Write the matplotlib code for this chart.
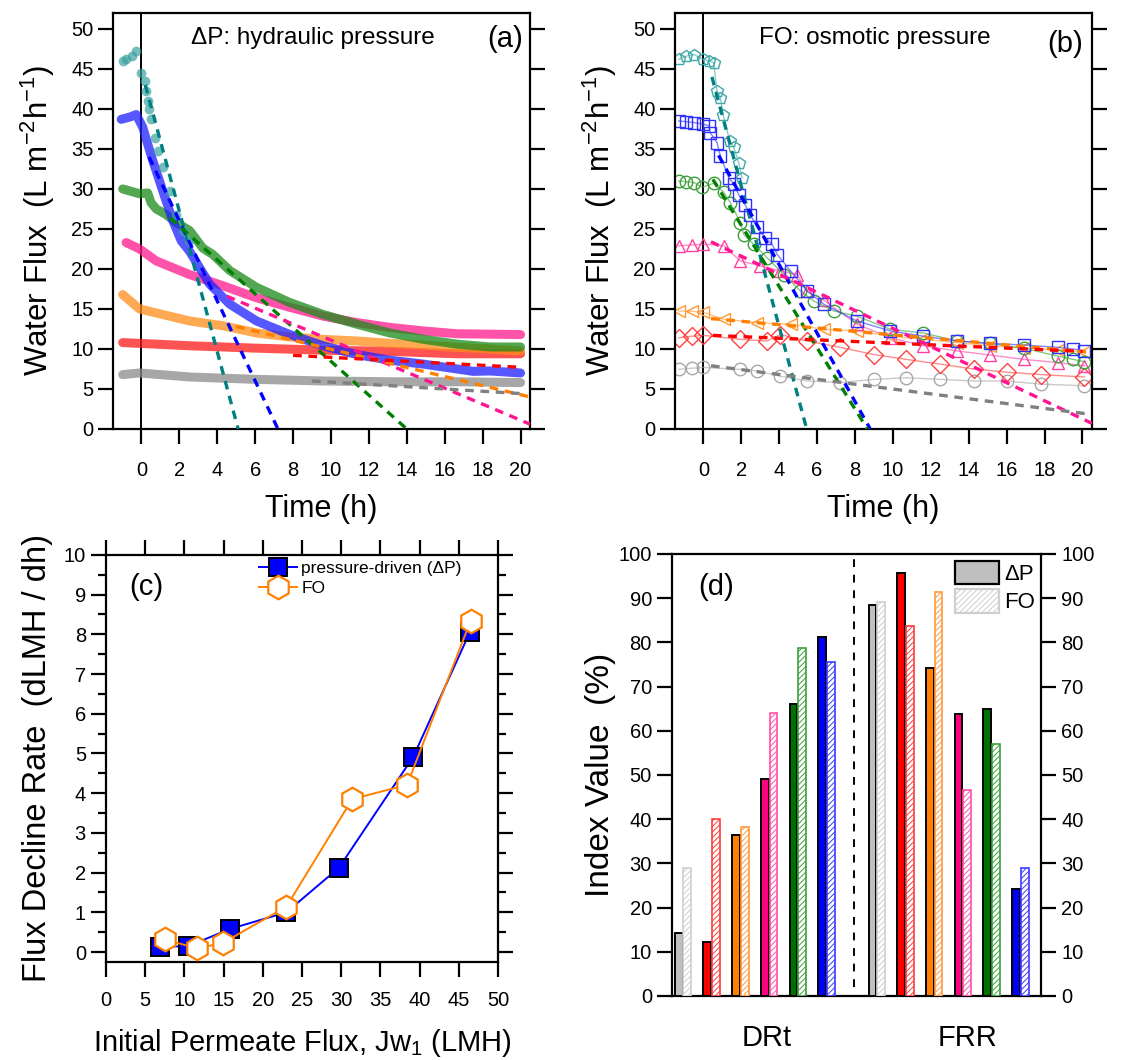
import matplotlib
matplotlib.use("Agg")
import matplotlib.pyplot as plt
from matplotlib.patches import Patch

plt.rcParams["font.family"] = ["Liberation Sans", "DejaVu Sans"]
plt.rcParams["mathtext.default"] = "regular"
plt.rcParams["hatch.linewidth"] = 0.7

# ---- panel (a): hydraulic pressure, flux vs time ----
a_teal_t = [-1.0, -0.8, -0.5, -0.3, 0.0, 0.16, 0.25, 0.33, 0.42, 0.51, 0.69, 0.86, 1.13, 1.48, 1.83, 2.19, 2.5]
a_teal_v = [46.0, 46.2, 46.6, 47.2, 44.5, 43.5, 42.3, 41.0, 40.0, 38.7, 36.4, 34.8, 32.7, 29.8, 26.8, 24.8, 23.5]
a_blue_t = [-1.07, -0.6, -0.28, 0.07, 0.33, 0.6, 0.95, 1.3, 1.66, 2.1, 2.54, 3.6, 4.66, 6.07, 7.83, 9.6,
            11.36, 13.1, 14.9, 16.65, 17.5, 18.4, 20.0]
a_blue_v = [38.7, 39.0, 39.3, 37.7, 35.6, 33.5, 31.0, 28.5, 26.0, 23.5, 22.2, 18.1, 15.6, 13.5, 11.8, 10.4,
            9.3, 8.6, 8.1, 7.5, 7.2, 7.25, 7.0]
a_green_t = [-0.99, -0.1, 0.33, 0.5, 0.78, 1.3, 1.83, 2.54, 3.24, 3.77, 4.66, 6.07, 7.83, 9.6, 11.36, 13.1,
             14.9, 16.65, 18.4, 20.0]
a_green_v = [30.0, 29.4, 29.5, 28.3, 27.5, 26.8, 25.8, 24.8, 22.6, 21.8, 19.8, 17.7, 15.8, 14.3, 13.1, 12.0,
             11.2, 10.6, 10.25, 10.25]
a_pink_t = [-0.81, -0.1, 0.78, 2.54, 4.3, 6.07, 7.83, 9.6, 11.36, 13.1, 14.9, 16.65, 18.4, 20.0]
a_pink_v = [23.3, 22.5, 21.0, 19.3, 17.9, 16.4, 15.2, 14.1, 13.3, 12.7, 12.25, 11.9, 11.85, 11.8]
a_orange_t = [-0.99, -0.1, 0.78, 2.54, 4.3, 6.07, 7.83, 9.6, 11.36, 13.1, 14.9, 16.65, 18.4, 20.0]
a_orange_v = [16.8, 15.0, 14.5, 13.5, 12.9, 12.0, 11.5, 11.2, 11.0, 10.7, 10.5, 10.2, 10.0, 9.75]
a_red_t = [-0.99, -0.1, 2.54, 6.07, 9.6, 13.1, 16.65, 20.0]
a_red_v = [10.8, 10.7, 10.4, 10.1, 9.85, 9.7, 9.4, 9.4]
a_gray_t = [-0.99, -0.1, 2.54, 6.07, 9.6, 13.1, 16.65, 20.0]
a_gray_v = [6.8, 7.0, 6.5, 6.2, 6.0, 5.9, 5.9, 5.8]

# linear decline fits (start, end)
a_fit_t = {"teal": [0.2, 5.1], "blue": [0.4, 7.2], "green": [1.5, 14.0], "pink": [4.5, 20.5],
           "orange": [5.0, 20.5], "red": [8.0, 20.1], "gray": [9.0, 20.2]}
a_fit_v = {"teal": [43.0, 0.0], "blue": [34.0, 0.0], "green": [26.4, 0.0], "pink": [16.6, 0.6],
           "orange": [12.8, 4.0], "red": [9.2, 7.7], "gray": [6.0, 4.4]}

# ---- panel (b): osmotic pressure (FO) ----
b_teal_t = [-1.3, -0.9, -0.5, 0.0, 0.3, 0.54, 0.72, 0.9, 1.04, 1.39, 1.6, 1.86, 2.04]
b_teal_v = [46.2, 46.6, 46.8, 46.2, 46.0, 45.8, 42.2, 41.4, 39.3, 36.0, 35.2, 33.3, 31.4]
b_blue_t = [-1.3, -0.9, -0.5, 0.0, 0.28, 0.37, 0.72, 0.9, 1.34, 1.6, 1.86, 2.2, 2.48, 2.83, 3.27, 3.62, 3.9,
            4.6, 5.47, 6.35, 8.1, 9.87, 11.6, 13.4, 15.1, 16.9, 18.7, 19.5, 20.1]
b_blue_v = [38.5, 38.4, 38.3, 38.1, 37.9, 37.0, 35.8, 34.1, 31.4, 30.6, 29.3, 28.0, 26.8, 25.2, 23.9, 23.1, 21.8,
            19.75, 17.25, 15.6, 13.5, 12.25, 11.6, 11.0, 10.7, 10.5, 10.2, 10.0, 9.75]
b_green_t = [-1.3, -0.9, -0.5, -0.07, 0.54, 1.07, 1.42, 1.95, 2.13, 2.65, 3.36, 4.24, 5.12, 5.82, 6.88, 8.1,
             9.87, 11.6, 13.4, 15.1, 16.9, 18.7, 19.5, 20.1]
b_green_v = [31.0, 30.9, 30.8, 30.2, 30.7, 29.6, 28.3, 25.8, 24.3, 23.1, 21.4, 19.3, 17.25, 16.0, 14.75, 14.1,
             12.45, 12.0, 11.0, 10.7, 10.1, 9.1, 8.7, 8.4]
b_pink_t = [-1.3, -0.6, 0.0, 1.07, 1.95, 3.0, 4.06, 4.94, 5.47, 6.35, 8.1, 9.87, 11.6, 13.4, 15.1, 16.9, 18.7, 20.1]
b_pink_v = [22.9, 23.0, 23.1, 22.9, 21.0, 20.4, 19.75, 19.3, 17.25, 16.1, 13.1, 11.4, 10.4, 9.75, 9.25, 8.7,
            8.3, 7.9]
b_orange_t = [-1.3, -0.6, 0.0, 1.07, 2.83, 4.6, 6.35, 8.1, 9.87, 11.6, 13.4, 15.1, 16.9, 18.7, 20.1]
b_orange_v = [14.75, 14.7, 14.6, 13.7, 13.3, 13.1, 12.45, 12.25, 11.6, 11.2, 10.8, 10.4, 10.1, 9.9, 9.6]
b_red_t = [-1.3, -0.6, 0.0, 1.95, 3.36, 4.06, 5.47, 7.23, 9.0, 10.7, 12.5, 14.26, 16.0, 17.8, 20.1]
b_red_v = [11.4, 11.6, 11.7, 11.2, 11.0, 11.8, 11.0, 10.2, 9.3, 8.7, 8.1, 7.5, 7.1, 6.8, 6.5]
b_gray_t = [-1.3, -0.6, 0.0, 1.95, 2.83, 4.06, 5.47, 7.23, 9.0, 10.7, 12.5, 14.26, 16.0, 17.8, 20.1]
b_gray_v = [7.45, 7.6, 7.7, 7.45, 7.25, 6.6, 6.0, 5.8, 6.2, 6.4, 6.2, 6.0, 6.0, 5.6, 5.4]

b_fit_t = {"teal": [0.45, 5.45], "blue": [0.8, 8.8], "green": [0.5, 8.65], "pink": [0.4, 20.5],
           "orange": [0.4, 20.3], "red": [0.5, 20.0], "gray": [0.4, 20.2]}
b_fit_v = {"teal": [44.0, 0.0], "blue": [34.2, 0.0], "green": [31.2, 0.0], "pink": [23.4, 0.7],
           "orange": [13.8, 9.6], "red": [11.7, 9.7], "gray": [7.9, 1.9]}

# ---- panel (c): flux decline rate vs initial flux ----
c_dp_x = [6.9, 10.5, 15.8, 23.0, 29.7, 39.2, 46.4]
c_dp_y = [0.13, 0.15, 0.58, 1.0, 2.12, 4.92, 8.05]
c_fo_x = [7.5, 11.6, 14.9, 23.0, 31.4, 38.4, 46.5]
c_fo_y = [0.32, 0.09, 0.23, 1.14, 3.85, 4.21, 8.34]

# ---- panel (d): index values ----
d_groups = ["DRt", "FRR"]
d_drt_dp = [14.3, 12.3, 36.4, 49.0, 66.0, 81.3]
d_drt_fo = [28.9, 40.0, 38.2, 64.0, 78.7, 75.5]
d_frr_dp = [88.4, 95.6, 74.1, 63.8, 64.9, 24.2]
d_frr_fo = [89.1, 83.7, 91.5, 46.6, 56.9, 28.9]

order = ["gray", "red", "orange", "pink", "green", "blue"]
smear_col = {"teal": "#3aa0a0", "blue": "#1f1fff", "green": "#198a19", "pink": "#ff1a8c",
             "orange": "#ff8c1a", "red": "#ff1a1a", "gray": "#8a8a8a"}
fit_col = {"teal": "#008080", "blue": "#0000ff", "green": "#008000", "pink": "#ff1493",
           "orange": "#ff8000", "red": "#ff0000", "gray": "#808080"}
bar_fill = {"gray": "#bfbfbf", "red": "#ff0000", "orange": "#ff8000", "pink": "#ff0080",
            "green": "#007000", "blue": "#0000ff"}
bar_hatch = {"gray": "#cfcfcf", "red": "#ff3b3b", "orange": "#ff9a3a", "pink": "#ff4fa8",
             "green": "#3ca03c", "blue": "#3b3bff"}

fig = plt.figure(figsize=(11.27, 10.6), dpi=100)
ax_a = fig.add_axes([0.1003, 0.5953, 0.3700, 0.3925])
ax_b = fig.add_axes([0.5989, 0.5953, 0.3700, 0.3925])
ax_c = fig.add_axes([0.0941, 0.0925, 0.3478, 0.3840])
ax_d = fig.add_axes([0.5963, 0.0604, 0.3274, 0.4170])

TICK_FS = 14.5


def style_time_axes(ax):
    for s in ax.spines.values():
        s.set_linewidth(1.6)
    ax.set_xlim(-1.5, 20.5)
    ax.set_ylim(0, 52)
    ax.set_xticks(range(0, 21, 2))
    ax.set_yticks(range(0, 51, 5))
    ax.tick_params(axis="both", direction="out", length=11, width=1.6, labelsize=TICK_FS)
    ax.tick_params(axis="y", right=True, pad=3)
    ax.tick_params(axis="x", pad=12)
    ax.axvline(0, color="black", lw=1.4, zorder=1)
    ax.set_xlabel("Time (h)", fontsize=22, labelpad=10)
    ax.set_ylabel(r"Water Flux  (L m$^{-2}$h$^{-1}$)", fontsize=22.5, labelpad=10)


# panel (a)
a_series = {"gray": (a_gray_t, a_gray_v), "red": (a_red_t, a_red_v), "orange": (a_orange_t, a_orange_v),
            "pink": (a_pink_t, a_pink_v), "green": (a_green_t, a_green_v), "blue": (a_blue_t, a_blue_v)}
for key, (t, v) in a_series.items():
    ax_a.plot(t, v, color=smear_col[key], lw=6.5, alpha=0.75, solid_capstyle="round", zorder=2)
ax_a.plot(a_teal_t, a_teal_v, "o", color=smear_col["teal"], ms=7, alpha=0.7, mew=0, zorder=2)
for key in ["teal", "blue", "green", "pink", "orange", "red", "gray"]:
    ax_a.plot(a_fit_t[key], a_fit_v[key], color=fit_col[key], lw=2.4, dashes=(2.6, 2.0), zorder=3)
style_time_axes(ax_a)
ax_a.text(0.48, 0.965, "ΔP: hydraulic pressure", transform=ax_a.transAxes, fontsize=17.5,
          ha="center", va="top")
ax_a.text(0.94, 0.97, "(a)", transform=ax_a.transAxes, fontsize=21, ha="center", va="top")

# panel (b)
b_series = [("gray", b_gray_t, b_gray_v, "o"), ("red", b_red_t, b_red_v, "D"),
            ("orange", b_orange_t, b_orange_v, "<"), ("pink", b_pink_t, b_pink_v, "^"),
            ("green", b_green_t, b_green_v, "o"), ("blue", b_blue_t, b_blue_v, "s"),
            ("teal", b_teal_t, b_teal_v, "p")]
b_mcol = {"gray": "#a8a8a8", "red": "#ff4040", "orange": "#ff9933", "pink": "#ff40a0",
          "green": "#3ca03c", "blue": "#3030ff", "teal": "#40a8a8"}
for key, t, v, m in b_series:
    ax_b.plot(t, v, color=b_mcol[key], lw=1.0, alpha=0.6, zorder=2)
    ax_b.plot(t, v, m, mfc="none", mec=b_mcol[key], ms=9, mew=1.0, zorder=2)
for key in ["teal", "blue", "green", "pink", "orange", "red", "gray"]:
    ax_b.plot(b_fit_t[key], b_fit_v[key], color=fit_col[key], lw=2.4, dashes=(2.6, 2.0), zorder=3)
style_time_axes(ax_b)
ax_b.text(0.48, 0.965, "FO: osmotic pressure", transform=ax_b.transAxes, fontsize=17.5,
          ha="center", va="top")
ax_b.text(0.935, 0.96, "(b)", transform=ax_b.transAxes, fontsize=21, ha="center", va="top")

# panel (c)
ax_c.plot(c_dp_x, c_dp_y, color="#0000ff", lw=1.4, marker="s", ms=13, mfc="#0000ff", mec="black",
          mew=1.4, label="pressure-driven (ΔP)", zorder=3)
ax_c.plot(c_fo_x, c_fo_y, color="#ff8000", lw=1.4, marker="h", ms=17, mfc="white", mec="#ff8000",
          mew=1.6, label="FO", zorder=4)
ax_c.set_xlim(0, 50)
ax_c.set_ylim(-0.25, 10)
ax_c.set_xticks(range(0, 51, 5))
ax_c.set_yticks(range(0, 11))
ax_c.set_yticks([i + 0.5 for i in range(0, 10)], minor=True)
for s in ax_c.spines.values():
    s.set_linewidth(1.6)
ax_c.tick_params(axis="both", which="major", direction="out", length=11, width=1.6, labelsize=TICK_FS)
ax_c.tick_params(axis="y", which="minor", direction="out", length=6, width=1.6)
ax_c.tick_params(axis="x", top=True, pad=10)
ax_c.tick_params(axis="y", which="both", right=True)
ax_c.set_xlabel(r"Initial Permeate Flux, Jw$_{1}$ (LMH)", fontsize=21, labelpad=12)
ax_c.set_ylabel("Flux Decline Rate  (dLMH / dh)", fontsize=23.5, labelpad=8)
ax_c.text(0.06, 0.92, "(c)", transform=ax_c.transAxes, fontsize=21, ha="left", va="center")
ax_c.legend(loc="upper left", bbox_to_anchor=(0.39, 0.985), frameon=False, fontsize=12.5,
            handlelength=2.2, handletextpad=0.25, labelspacing=0.25, borderpad=0, borderaxespad=0)

# panel (d)
gap = 6.75
bw = 0.27
off = 0.15
for i, key in enumerate(order):
    for base, dp_vals, fo_vals in [(0.0, d_drt_dp, d_drt_fo), (gap, d_frr_dp, d_frr_fo)]:
        x = base + i
        ax_d.bar(x - off, dp_vals[i], width=bw, color=bar_fill[key], edgecolor="black", lw=1.4, zorder=3)
        ax_d.bar(x + off, fo_vals[i], width=bw, color="white", edgecolor=bar_hatch[key], lw=1.2,
                 hatch="//////", zorder=3)
ax_d.axvline(5.96, ymin=0.02, ymax=1.0, color="black", lw=1.4, dashes=(4, 4))
ax_d.set_xlim(-0.38, 12.47)
ax_d.set_ylim(0, 100)
ax_d.set_yticks(range(0, 101, 10))
ax_d.set_xticks([2.9, 9.9])
ax_d.set_xticklabels(d_groups, fontsize=21)
ax_d.tick_params(axis="x", length=0, pad=20)
ax_d.tick_params(axis="y", direction="out", length=11, width=1.6, labelsize=TICK_FS,
                 right=True, labelright=True)
for s in ax_d.spines.values():
    s.set_linewidth(1.6)
ax_d.set_ylabel("Index Value  (%)", fontsize=24, labelpad=2)
ax_d.text(0.07, 0.925, "(d)", transform=ax_d.transAxes, fontsize=21, ha="left", va="center")
handles = [Patch(facecolor="#bfbfbf", edgecolor="black", lw=1.6, label="ΔP"),
           Patch(facecolor="white", edgecolor="#cfcfcf", lw=1.6, hatch="//////", label="FO")]
ax_d.legend(handles=handles, loc="upper right", bbox_to_anchor=(0.985, 0.985), frameon=False,
            fontsize=16, handlelength=2.0, handleheight=1.25, handletextpad=0.25, labelspacing=0.2,
            borderpad=0, borderaxespad=0)

fig.savefig("out.png", dpi=100)
